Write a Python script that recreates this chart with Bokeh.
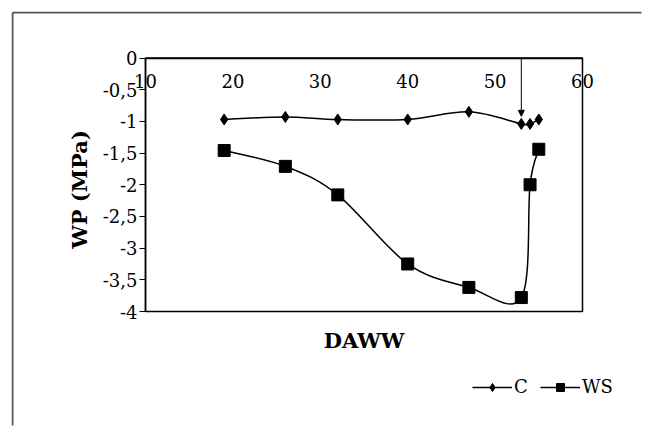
import numpy as np
from bokeh.plotting import figure
from bokeh.models import (Range1d, FixedTicker, Label, Arrow, NormalHead,
                          Legend, LegendItem)
from bokeh.embed import file_html
from bokeh.resources import INLINE

# ---- data ----
days_c = [19, 26, 32, 40, 47, 53, 54, 55]
wp_c = [-0.97, -0.93, -0.97, -0.97, -0.85, -1.04, -1.04, -0.97]
days_ws = [19, 26, 32, 40, 47, 53, 54, 55]
wp_ws = [-1.46, -1.71, -2.16, -3.25, -3.62, -3.78, -2.00, -1.44]
x_ticks = [10, 20, 30, 40, 50, 60]
y_ticks = [0, -0.5, -1, -1.5, -2, -2.5, -3, -3.5, -4]
y_tick_labels = ["0", "-0,5", "-1", "-1,5", "-2", "-2,5", "-3", "-3,5", "-4"]
arrow_day = 53
arrow_tip = -0.92
x_title = "DAWW"
y_title = "WP (MPa)"
series_names = ["C", "WS"]

FONT = "DejaVu Serif"

# ---- layout (canvas pixels) ----
W, H = 642, 426
FRAME_L, FRAME_T = 11, 11          # outer chart-area frame corner
BOX_L, BOX_R = 145, 582            # plot box left/right
BOX_T, BOX_B = 57.5, 311           # plot box top/bottom
X0, X1 = x_ticks[0], x_ticks[-1]
YT, YB = y_ticks[0], y_ticks[-1]
sx = (BOX_R - BOX_L) / (X1 - X0)
sy = (BOX_B - BOX_T) / (YT - YB)


def px_x(px):
    return X0 + (px - BOX_L) / sx


def px_y(py):
    return YT - (py - BOX_T) / sy


def smooth(xs, ys):
    """Excel-like smoothed line: cubic Bezier pieces with Catmull-Rom handles."""
    x = np.asarray(xs, float)
    y = np.asarray(ys, float)
    xp = np.concatenate([[x[0]], x, [x[-1]]])
    yp = np.concatenate([[y[0]], y, [y[-1]]])
    i = np.arange(len(x) - 1)
    cx0 = xp[i + 1] + (xp[i + 2] - xp[i]) / 6
    cy0 = yp[i + 1] + (yp[i + 2] - yp[i]) / 6
    cx1 = xp[i + 2] - (xp[i + 3] - xp[i + 1]) / 6
    cy1 = yp[i + 2] - (yp[i + 3] - yp[i + 1]) / 6
    return dict(x0=x[:-1], y0=y[:-1], x1=x[1:], y1=y[1:],
                cx0=cx0, cy0=cy0, cx1=cx1, cy1=cy1)


p = figure(width=W, height=H,
           x_range=Range1d(px_x(FRAME_L), px_x(W)),
           y_range=Range1d(px_y(H), px_y(FRAME_T)),
           output_backend="svg", toolbar_location=None,
           min_border_left=FRAME_L, min_border_right=0,
           min_border_top=FRAME_T, min_border_bottom=0,
           border_fill_color="white", background_fill_color="white")
p.grid.visible = False
p.outline_line_color = None

# outer chart-area frame: only its top and left edges are in view
fx, fy = px_x(FRAME_L + 1), px_y(FRAME_T + 1)
p.segment(x0=[fx, fx], y0=[fy, fy], x1=[px_x(W - 1), fx], y1=[fy, px_y(H - 1)],
          line_color="#555555", line_width=2)

# plot box
p.quad(left=[X0], right=[X1], bottom=[YB], top=[YT],
       fill_color=None, line_color="black", line_width=1.5)

# x axis sits on y = 0 (top of the plot box), labels underneath
xa = p.xaxis[0]
xa.fixed_location = YT
xa.bounds = (X0, X1)
xa.ticker = FixedTicker(ticks=x_ticks)
xa.major_tick_out = 0
xa.major_tick_in = 0
xa.minor_tick_out = 0
xa.minor_tick_in = 0
xa.major_label_standoff = 16
xa.axis_line_color = "black"
xa.axis_line_width = 1.5
xa.major_label_text_font = FONT
xa.major_label_text_font_size = "18px"
xa.major_label_text_color = "black"

ya = p.yaxis[0]
ya.fixed_location = X0
ya.bounds = (YB, YT)
ya.ticker = FixedTicker(ticks=y_ticks)
ya.major_label_overrides = {float(t): l for t, l in zip(y_ticks, y_tick_labels)}
ya.major_tick_out = 6
ya.major_tick_in = 0
ya.minor_tick_out = 0
ya.minor_tick_in = 0
ya.major_label_standoff = 2
ya.axis_line_color = "black"
ya.axis_line_width = 1.5
ya.major_tick_line_color = "black"
ya.major_label_text_font = FONT
ya.major_label_text_font_size = "18px"
ya.major_label_text_color = "black"

# series
rc_line = p.bezier(source=smooth(days_c, wp_c), x0="x0", y0="y0", x1="x1", y1="y1",
                   cx0="cx0", cy0="cy0", cx1="cx1", cy1="cy1",
                   line_color="black", line_width=1.5)
rc_pts = p.scatter(days_c, wp_c, marker="diamond", size=11,
                   fill_color="black", line_color="black")
rw_line = p.bezier(source=smooth(days_ws, wp_ws), x0="x0", y0="y0", x1="x1", y1="y1",
                   cx0="cx0", cy0="cy0", cx1="cx1", cy1="cy1",
                   line_color="black", line_width=1.5)
rw_pts = p.scatter(days_ws, wp_ws, marker="square", size=12,
                   fill_color="black", line_color="black")

# arrow pointing at the C point
p.add_layout(Arrow(x_start=arrow_day, y_start=YT, x_end=arrow_day, y_end=arrow_tip,
                   line_color="black", line_width=1,
                   end=NormalHead(size=6, fill_color="black", line_color="black")))

# axis titles
p.add_layout(Label(x=(X0 + X1) / 2, y=px_y(340),
                   text=x_title, text_align="center", text_baseline="middle",
                   text_font=FONT, text_font_style="bold", text_font_size="21px",
                   text_color="black"))
p.add_layout(Label(x=px_x(79), y=px_y(189), angle=np.pi / 2,
                   text=y_title, text_align="center", text_baseline="middle",
                   text_font=FONT, text_font_style="bold", text_font_size="21px",
                   text_color="black"))

legend = Legend(items=[LegendItem(label=series_names[0], renderers=[rc_line, rc_pts]),
                       LegendItem(label=series_names[1], renderers=[rw_line, rw_pts])],
                orientation="horizontal", location=(472 - FRAME_L, H - 397),
                glyph_width=40, glyph_height=20, label_standoff=2, spacing=6,
                padding=0, margin=0, border_line_color=None,
                background_fill_alpha=0,
                label_text_font=FONT, label_text_font_size="18px",
                label_text_color="black")
p.add_layout(legend)

open("out.html", "w").write(file_html(p, INLINE))
